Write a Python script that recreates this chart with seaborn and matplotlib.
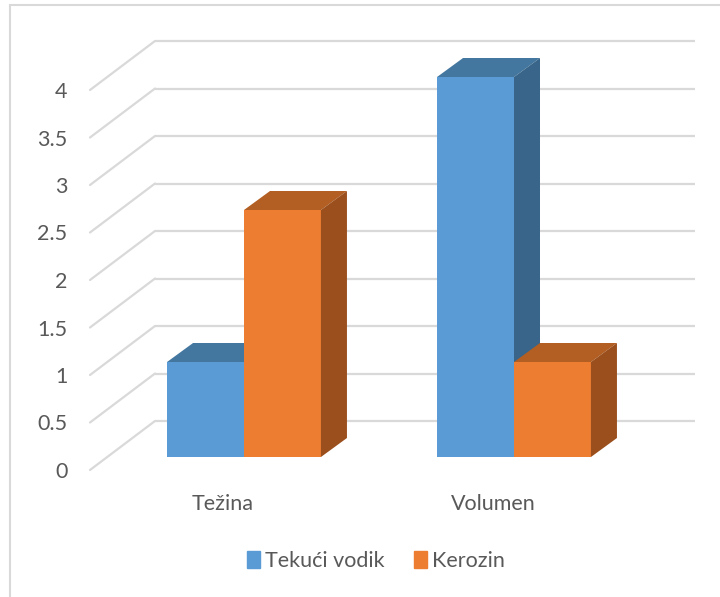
import matplotlib
matplotlib.use("Agg")
import matplotlib.pyplot as plt
from matplotlib.patches import Polygon
from matplotlib.lines import Line2D
import matplotlib.transforms as mtransforms
import numpy as np
import pandas as pd
import seaborn as sns

# data
categories = ["Težina", "Volumen"]
series = ["Tekući vodik", "Kerozin"]
tekuci_vodik = [1.0, 4.0]
kerozin = [2.6, 1.0]
yticks = [0, 0.5, 1, 1.5, 2, 2.5, 3, 3.5, 4]

front_colors = ["#5B9BD5", "#ED7D31"]
top_colors = ["#44779F", "#B35E22"]
side_colors = ["#386589", "#9A4F1D"]

df = pd.DataFrame({
    "kategorija": categories * 2,
    "serija": [series[0]] * 2 + [series[1]] * 2,
    "vrijednost": tekuci_vodik + kerozin,
})


def px(dx, dy):
    # shift in image pixels (y down) -> display offset
    return mtransforms.Affine2D().translate(dx, -dy)


def main():
    sns.set_style("white")
    plt.rcParams["font.family"] = ["Lato", "DejaVu Sans"]

    W, H = 720, 597
    fig = plt.figure(figsize=(W / 100, H / 100), dpi=100)
    # axes placed so that value 0 of the bar front plane sits at image y=457
    ax = fig.add_axes([109 / W, (H - 457) / H, 540 / W, 427.5 / H])

    ax.set_xlim(-0.5, 1.5)
    ax.set_ylim(0, 4.5)
    ax.patch.set_alpha(0)
    sns.despine(ax=ax, left=True, bottom=True, top=True, right=True)

    # outer chart frame (only left and top edges visible)
    fig.add_artist(Line2D([10 / W, 10 / W], [0, 1 - 5 / H], transform=fig.transFigure,
                          color="#D9D9D9", lw=1.5))
    fig.add_artist(Line2D([10 / W, 1], [1 - 5 / H, 1 - 5 / H], transform=fig.transFigure,
                          color="#D9D9D9", lw=1.5))

    # 3D walls: back gridlines and diagonal side-wall lines
    front = ax.transData + px(-19, 13)
    back = ax.transData + px(46, -36)
    x0, x1 = ax.get_xlim()
    for v in yticks:
        ax.plot([x0, x1], [v, v], transform=back, color="#D9D9D9", lw=1.6,
                zorder=0, solid_capstyle="butt", clip_on=False)
        p_front = front.transform((x0, v))
        p_back = back.transform((x0, v))
        ax.add_line(Line2D([p_front[0], p_back[0]], [p_front[1], p_back[1]],
                           transform=mtransforms.IdentityTransform(),
                           color="#D9D9D9", lw=1.6, zorder=0, clip_on=False))

    sns.barplot(data=df, x="kategorija", y="vrijednost", hue="serija",
                hue_order=series, order=categories, palette=front_colors,
                width=0.57, saturation=1, legend=False, ax=ax, linewidth=0)
    ax.set_xlim(x0, x1)

    # top and side faces from the bar geometry
    depth = np.array([26, 19])  # image pixels, right and up
    for i, cont in enumerate(ax.containers):
        for bar in cont:
            bar.set_zorder(2 + i)
            bx, bw, bh = bar.get_x(), bar.get_width(), bar.get_height()
            tl = ax.transData.transform((bx, bh))
            tr = ax.transData.transform((bx + bw, bh))
            br = ax.transData.transform((bx + bw, 0))
            top = Polygon([tl, tr, tr + depth, tl + depth], closed=True,
                          transform=mtransforms.IdentityTransform(),
                          facecolor=top_colors[i], edgecolor="none", zorder=2 + i)
            side = Polygon([br, tr, tr + depth, br + depth], closed=True,
                           transform=mtransforms.IdentityTransform(),
                           facecolor=side_colors[i], edgecolor="none", zorder=2 + i)
            ax.add_patch(top)
            ax.add_patch(side)

    # axis labels
    fs = 15.5
    ax.set_yticks(yticks)
    ax.set_yticklabels([f"{t:g}" for t in yticks])
    ax.tick_params(axis="y", length=0, pad=30, labelsize=fs, labelcolor="#595959")
    for lab in ax.get_yticklabels():
        lab.set_transform(lab.get_transform() + px(0, 13))

    ax.tick_params(axis="x", length=0, pad=17, labelsize=fs, labelcolor="#595959")
    for lab in ax.get_xticklabels():
        lab.set_transform(lab.get_transform() + px(-21, 13))
    ax.set_xlabel("")
    ax.set_ylabel("")

    handles = [plt.Rectangle((0, 0), 1, 1, color=c) for c in front_colors]
    fig.legend(handles, series, loc="center", bbox_to_anchor=(0.5 + 16 / W, 1 - 561 / H),
               ncol=2, frameon=False, fontsize=fs, handlelength=0.6,
               handleheight=0.8, handletextpad=0.2, columnspacing=1.4,
               labelcolor="#595959")

    fig.savefig("out.png", dpi=100)


if __name__ == "__main__":
    main()
